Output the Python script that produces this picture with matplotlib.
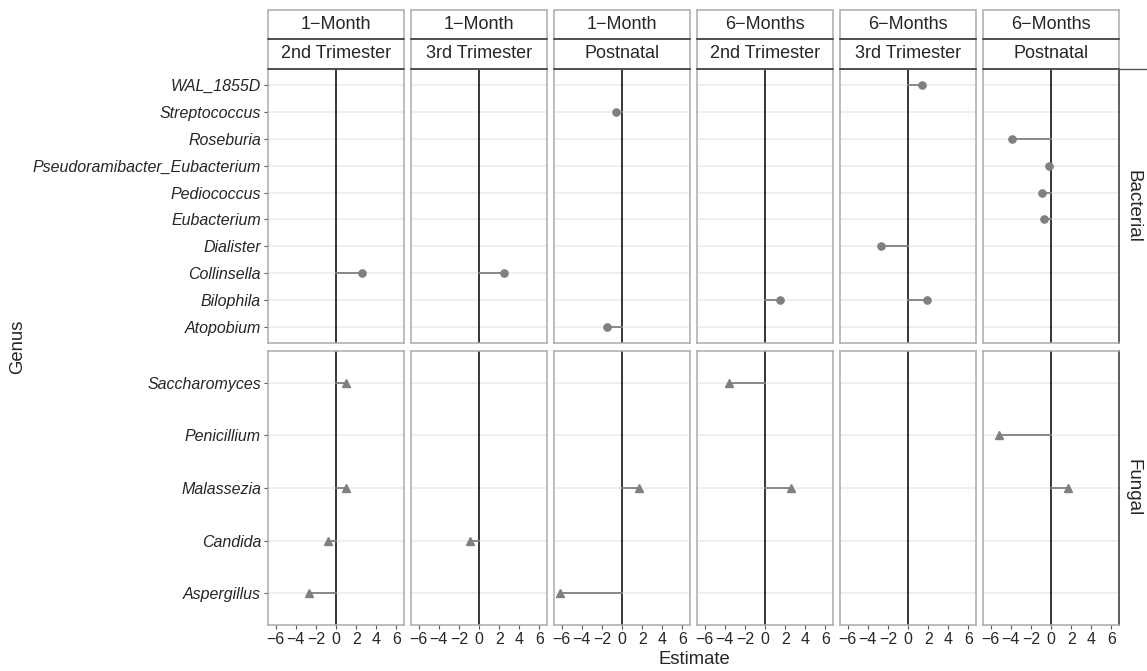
import matplotlib
matplotlib.use("Agg")
import matplotlib.pyplot as plt
from matplotlib.lines import Line2D
from matplotlib.patches import Rectangle

plt.rcParams['font.family'] = ['Liberation Sans', 'DejaVu Sans']

# facet columns
timepoints = ['1\u2212Month', '1\u2212Month', '1\u2212Month', '6\u2212Months', '6\u2212Months', '6\u2212Months']
exposures = ['2nd Trimester', '3rd Trimester', 'Postnatal', '2nd Trimester', '3rd Trimester', 'Postnatal']

# genera, bottom to top
bact_genera = ['Atopobium', 'Bilophila', 'Collinsella', 'Dialister', 'Eubacterium', 'Pediococcus',
               'Pseudoramibacter_Eubacterium', 'Roseburia', 'Streptococcus', 'WAL_1855D']
fung_genera = ['Aspergillus', 'Candida', 'Malassezia', 'Penicillium', 'Saccharomyces']

# bacterial estimates (column index, genus, estimate)
bact_col = [0, 1, 2, 2, 3, 4, 4, 4, 5, 5, 5, 5]
bact_genus = ['Collinsella', 'Collinsella', 'Streptococcus', 'Atopobium', 'Bilophila', 'WAL_1855D',
              'Dialister', 'Bilophila', 'Roseburia', 'Pseudoramibacter_Eubacterium', 'Pediococcus', 'Eubacterium']
bact_est = [2.6, 2.45, -0.6, -1.5, 1.52, 1.39, -2.68, 1.88, -3.84, -0.17, -0.9, -0.66]

# fungal estimates
fung_col = [0, 0, 0, 0, 1, 2, 2, 3, 3, 5, 5]
fung_genus = ['Saccharomyces', 'Malassezia', 'Candida', 'Aspergillus', 'Candida', 'Aspergillus',
              'Malassezia', 'Saccharomyces', 'Malassezia', 'Penicillium', 'Malassezia']
fung_est = [1.0, 0.95, -0.8, -2.65, -0.92, -6.15, 1.72, -3.6, 2.54, -5.2, 1.69]

W, H = 1147, 671
fig = plt.figure(figsize=(W / 100, H / 100), dpi=100)


def px_axes(x0, y0, x1, y1):
    return fig.add_axes([x0 / W, 1 - y1 / H, (x1 - x0) / W, (y1 - y0) / H])


col_left = [268, 411, 554, 697, 840, 983]
pw = 136
rows = [(69, 343, bact_genera, bact_col, bact_genus, bact_est, 'o', 5.2, 'Bacterial'),
        (351, 625, fung_genera, fung_col, fung_genus, fung_est, '^', 5.8, 'Fungal')]

border = '#ABABAB'
txt = '#262626'

for r, (y0, y1, genera, cols, gens, ests, mk, ms, rlabel) in enumerate(rows):
    n = len(genera)
    for c in range(6):
        ax = px_axes(col_left[c], y0, col_left[c] + pw, y1)
        ax.set_xlim(-6.75, 6.75)
        ax.set_ylim(-0.6, n - 1 + 0.6)
        for y in range(n):
            ax.axhline(y, color='#EBEBEB', lw=1.1, zorder=0)
        ax.axvline(0, color='black', lw=1.1, zorder=1)
        for cc, g, e in zip(cols, gens, ests):
            if cc != c:
                continue
            yy = genera.index(g)
            ax.plot([0, e], [yy, yy], color='#808080', lw=1.3, zorder=2)
            ax.plot(e, yy, marker=mk, ms=ms, color='#808080', zorder=3, linestyle='none')
        for s in ax.spines.values():
            s.set_color(border)
            s.set_linewidth(1.1)
        if c == 5:
            ax.spines['right'].set_color('#333333')
        ax.set_yticks(range(n))
        if c == 0:
            ax.set_yticklabels(genera, fontstyle='italic', fontsize=11.5, color=txt)
        else:
            ax.set_yticklabels([])
        ax.set_xticks([-6, -4, -2, 0, 2, 4, 6])
        if r == 1:
            ax.set_xticklabels(['\u22126', '\u22124', '\u22122', '0', '2', '4', '6'], fontsize=11.5, color=txt)
        else:
            ax.set_xticklabels([])
        ax.tick_params(length=3, color='#555555', width=0.8, pad=2)
        if r == 1 and c != 0:
            ax.tick_params(axis='y', length=0)
        if r == 0:
            ax.tick_params(axis='x', length=0)
        if r == 0 and c != 0:
            ax.tick_params(axis='y', length=0)
    fig.text(1133 / W, 1 - (y0 + y1) / 2 / H, rlabel, rotation=-90, ha='center', va='center',
             fontsize=13.5, color=txt)

# column strips
for c in range(6):
    for k, (s0, s1, lab) in enumerate([(10, 39, timepoints[c]), (39, 69, exposures[c])]):
        x0 = col_left[c] / W
        fig.add_artist(Rectangle((x0, 1 - s1 / H), pw / W, (s1 - s0) / H,
                                 transform=fig.transFigure, facecolor='white',
                                 edgecolor=border, lw=1.1))
        fig.add_artist(Line2D([x0, x0 + pw / W], [1 - s1 / H, 1 - s1 / H],
                              transform=fig.transFigure, color='#333333', lw=1.1))
        fig.text(x0 + pw / 2 / W, 1 - (s0 + s1) / 2 / H, lab, ha='center', va='center',
                 fontsize=13, color=txt)

fig.add_artist(Line2D([(983 + pw) / W, 1], [1 - 69 / H, 1 - 69 / H],
                      transform=fig.transFigure, color='#555555', lw=1.0))

fig.text(18 / W, 1 - 347 / H, 'Genus', rotation=90, ha='center', va='center', fontsize=13.3, color=txt)
fig.text(694 / W, 1 - 659 / H, 'Estimate', ha='center', va='center', fontsize=13.3, color=txt)

fig.savefig('out.png', dpi=100)
